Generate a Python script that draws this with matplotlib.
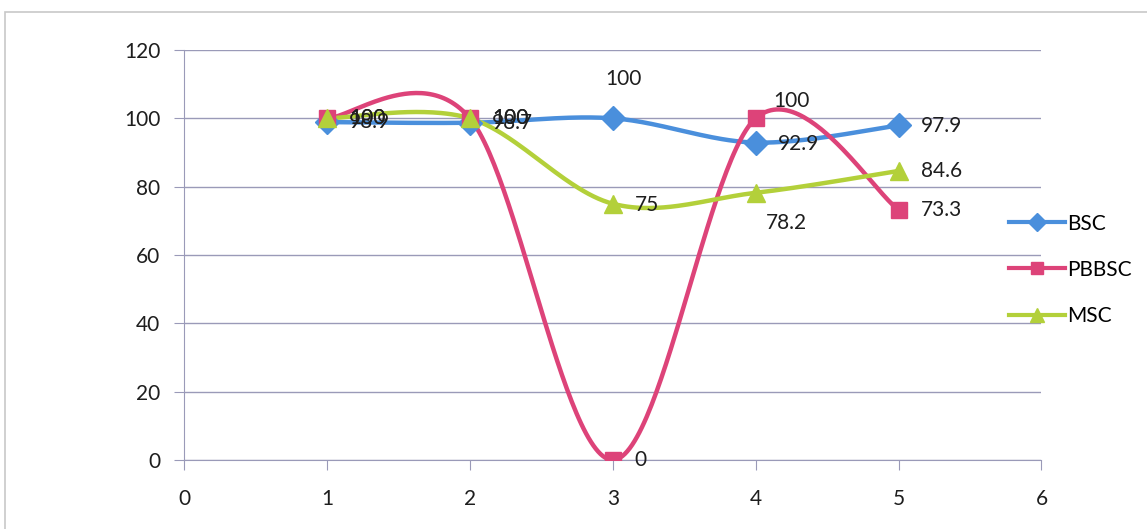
import matplotlib.pyplot as plt
import numpy as np
from matplotlib.patches import Rectangle

plt.rcParams["font.family"] = ["Lato", "DejaVu Sans"]

x_vals = [1, 2, 3, 4, 5]
bsc = [98.9, 98.7, 100, 92.9, 97.9]
pbbsc = [100, 100, 0, 100, 73.3]
msc = [100, 100, 75, 78.2, 84.6]

series = [
    ("BSC", bsc, "#4a8fdc", "D", 12),
    ("PBBSC", pbbsc, "#dd4379", "s", 12),
    ("MSC", msc, "#b3d03a", "^", 13),
]

# label offsets in pixels (dx, dy), left-aligned text
label_offsets = {
    "BSC": [(22, 0), (22, 0), (-8, 39), (22, -1), (22, -1)],
    "PBBSC": [(22, 0), (22, 0), (22, 0), (18, 17), (22, 0)],
    "MSC": [(22, 0), (22, 0), (22, -1), (10, -30), (22, 0)],
}


def smooth(xs, ys, n=60):
    # Excel-like smoothed line: Catmull-Rom bezier segments
    p = np.column_stack([xs, ys]).astype(float)
    pts = np.vstack([p[0], p, p[-1]])
    out = []
    t = np.linspace(0, 1, n)[:, None]
    for i in range(1, len(pts) - 2):
        p0, p1, p2, p3 = pts[i - 1], pts[i], pts[i + 1], pts[i + 2]
        c1 = p1 + (p2 - p0) / 6
        c2 = p2 - (p3 - p1) / 6
        seg = ((1 - t) ** 3) * p1 + 3 * ((1 - t) ** 2) * t * c1 + 3 * (1 - t) * t**2 * c2 + t**3 * p2
        out.append(seg)
    out = np.vstack(out)
    return out[:, 0], out[:, 1]


fig = plt.figure(figsize=(11.47, 5.29), dpi=100)
fig.patch.set_facecolor("white")
ax = fig.add_axes([0.1605, 0.1305, 0.7475, 0.775])

grid_col = "#9a9ab8"
for name, vals, col, mk, ms in series:
    sx, sy = smooth(x_vals, vals)
    ax.plot(sx, sy, color=col, linewidth=3.2, solid_capstyle="round", zorder=3)
    ax.plot(x_vals, vals, linestyle="none", marker=mk, markersize=ms,
            color=col, markeredgecolor=col, zorder=4)
    ax.plot([], [], color=col, linewidth=3, marker=mk, markersize=ms, label=name)
    for xv, yv, (dx, dy) in zip(x_vals, vals, label_offsets[name]):
        ax.annotate(f"{yv:g}", (xv, yv), xytext=(dx, dy), textcoords="offset pixels",
                    ha="left", va="center", fontsize=15, color="#1e1e1e", zorder=5)

ax.set_xlim(0, 6)
ax.set_ylim(0, 120)
ax.set_xticks(range(0, 7))
ax.set_yticks(range(0, 121, 20))
ax.yaxis.grid(True, color=grid_col, linewidth=1)
ax.set_axisbelow(True)
for s in ["top", "right"]:
    ax.spines[s].set_visible(False)
for s in ["left", "bottom"]:
    ax.spines[s].set_color(grid_col)
ax.tick_params(axis="both", colors=grid_col, labelcolor="#1e1e1e", labelsize=15,
               length=7, direction="out")
ax.tick_params(axis="x", pad=14)
ax.tick_params(axis="y", pad=10)

fig.legend(loc="center left", bbox_to_anchor=(0.863, 0.49), frameon=False,
           fontsize=15, handlelength=2.7, labelspacing=1.25, handletextpad=0.1,
           markerscale=0.75)

fig.patches.append(Rectangle((0.004, -0.02), 1.1, 0.998, transform=fig.transFigure,
                             fill=False, edgecolor="#c8c8c8", linewidth=1.2))

fig.savefig("out.png", dpi=100)
